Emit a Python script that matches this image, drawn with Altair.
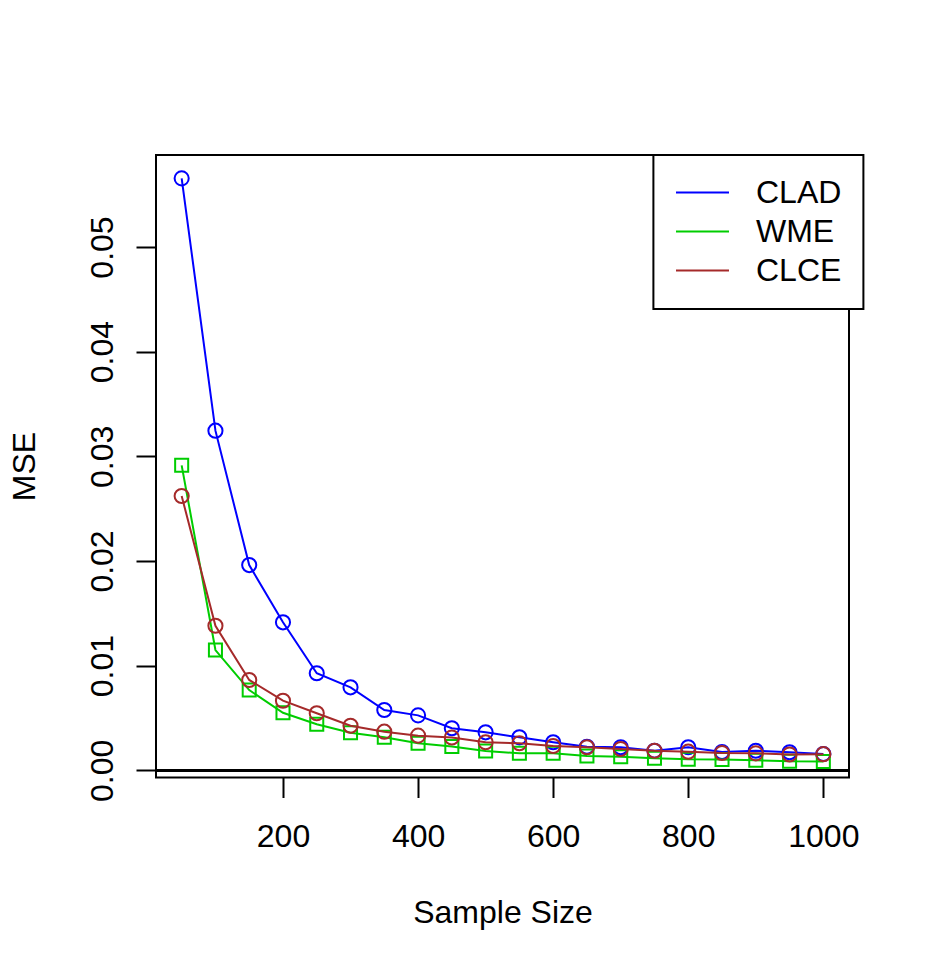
import altair as alt
import pandas as pd

sample_size = [50, 100, 150, 200, 250, 300, 350, 400, 450, 500,
               550, 600, 650, 700, 750, 800, 850, 900, 950, 1000]
clad = [0.05656, 0.03245, 0.01961, 0.01414, 0.00927, 0.00793, 0.00576, 0.00525, 0.00402, 0.00363,
        0.00315, 0.00268, 0.00225, 0.00220, 0.00187, 0.00220, 0.00175, 0.00187, 0.00172, 0.00156]
wme = [0.02914, 0.01149, 0.00767, 0.00550, 0.00440, 0.00359, 0.00315, 0.00258, 0.00227, 0.00184,
       0.00162, 0.00162, 0.00137, 0.00130, 0.00115, 0.00105, 0.00103, 0.00096, 0.00086, 0.00084]
clce = [0.02621, 0.01381, 0.00863, 0.00665, 0.00545, 0.00426, 0.00369, 0.00331, 0.00313, 0.00268,
        0.00258, 0.00232, 0.00220, 0.00204, 0.00187, 0.00178, 0.00165, 0.00162, 0.00151, 0.00154]

methods = ["CLAD", "WME", "CLCE"]
colors = ["#0000FF", "#00CD00", "#A52A2A"]
shapes = ["circle", "square", "circle"]
x_ticks = [200, 400, 600, 800, 1000]
y_ticks = [0.00, 0.01, 0.02, 0.03, 0.04, 0.05]

rows = []
for name, vals in zip(methods, [clad, wme, clce]):
    for n, v in zip(sample_size, vals):
        rows.append({"n": n, "mse": v, "Method": name})
df = pd.DataFrame(rows)

FONT = "Liberation Sans"

x_enc = alt.X("n:Q", title="Sample Size",
              scale=alt.Scale(domain=[12, 1038], nice=False, zero=False),
              axis=alt.Axis(values=x_ticks, format="d", titleY=144.5,
                            titleBaseline="alphabetic", labelPadding=24))
y_enc = alt.Y("mse:Q", title="MSE",
              scale=alt.Scale(domain=[-0.000688, 0.05879], nice=False, zero=False),
              axis=alt.Axis(values=y_ticks, format=".2f", labelAngle=270,
                            labelAlign="center", labelBaseline="alphabetic",
                            labelPadding=24, titleAngle=270, titleAlign="center",
                            titleBaseline="alphabetic", titleX=-121.5, titleY=311))

legend = alt.Legend(
    title=None,
    orient="none", legendX=497.4, legendY=0,
    strokeColor="black", padding=21.6, fillColor="white",
    symbolType="M-1,0H2.533", symbolSize=900,
    symbolStrokeWidth=2, symbolOpacity=1,
    labelFont=FONT, labelFontSize=32, labelColor="black", labelOffset=49,
    rowPadding=7, labelLimit=0,
)
color_enc = alt.Color("Method:N", scale=alt.Scale(domain=methods, range=colors),
                      legend=legend)

base = alt.Chart(df)
layers = []
zero_rule = base.mark_rule(color="black", strokeWidth=2).encode(y=alt.datum(0))
layers.append(zero_rule)
for name, shp in zip(methods, shapes):
    sub = base.transform_filter(alt.datum.Method == name)
    line = sub.mark_line(strokeWidth=2, opacity=1).encode(x=x_enc, y=y_enc, color=color_enc)
    pts = sub.mark_point(shape=shp, filled=False, strokeWidth=2, opacity=1,
                         size=200 if shp == "circle" else 170).encode(
        x=x_enc, y=y_enc, color=color_enc)
    layers.extend([line, pts])

chart = alt.layer(*layers).properties(
    width=693, height=622.5,
    autosize=alt.AutoSizeParams(type="none"),
    padding={"left": 148, "top": 147, "right": 70, "bottom": 170},
    background="white",
).configure_view(
    stroke="black", strokeWidth=2
).configure_axis(
    domain=False, grid=False,
    ticks=True, tickColor="black", tickWidth=2, tickSize=20,
    labelFont=FONT, labelFontSize=32, labelColor="black",
    titleFont=FONT, titleFontSize=32, titleColor="black", titleFontWeight="normal",
    labelFlush=False, labelOverlap=False,
).configure_legend(
    strokeWidth=2,
)

chart.save("out.html", embed_options={"renderer": "svg", "actions": False})
